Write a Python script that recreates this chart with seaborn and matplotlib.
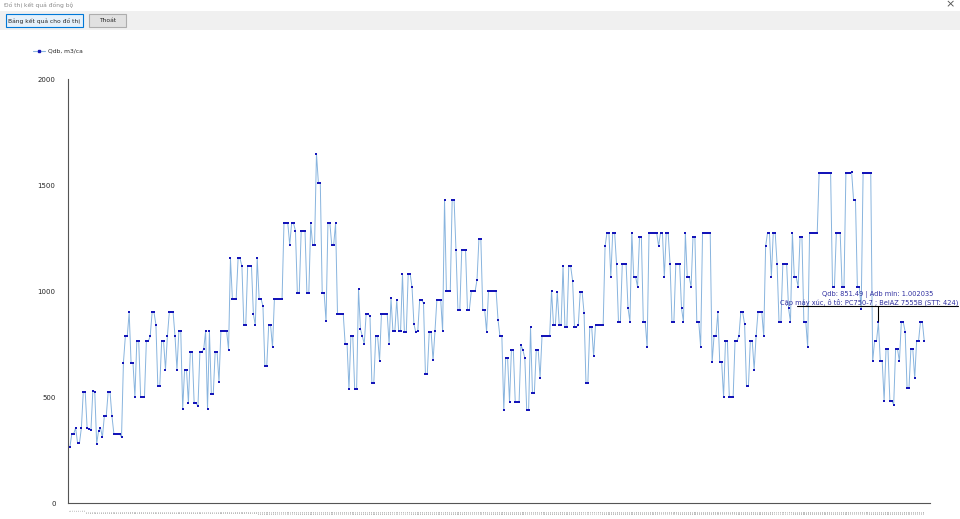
import pandas as pd
import matplotlib.pyplot as plt
import seaborn as sns
from matplotlib.lines import Line2D
from matplotlib.patches import Rectangle

# values (Qdb, m3/ca for each pair, STT 1..448)
qdb = [
    264, 327, 327, 354, 283, 283, 354, 525, 525, 354, 350, 343, 530, 525, 280, 340,
    354, 310, 409, 409, 522, 522, 409, 327, 327, 327, 327, 310, 662, 786, 786, 899,
    662, 662, 500, 763, 763, 500, 500, 500, 763, 763, 786, 899, 899, 841, 550,
    550, 763, 763, 629, 786, 899, 899, 899, 786, 629, 810, 810, 443, 629, 629, 472,
    712, 712, 472, 472, 456, 712, 712, 726, 810, 443, 810, 514, 514, 712, 712, 571,
    810, 810, 810, 810, 723, 1154, 964, 964, 964, 1154, 1154, 1116, 838, 838, 1116,
    1116, 1116, 891,
    838, 1154, 964, 964, 928, 648, 648, 838, 838, 734, 964, 964, 964, 964, 964, 1319,
    1319, 1319, 1218, 1319, 1319, 1284, 992, 992, 1284, 1284, 1284, 992, 992, 1319,
    1218, 1218, 1648, 1511, 1511, 992, 992, 857, 1319, 1319, 1218, 1218, 1319, 893,
    893, 893, 893, 751, 751, 536,
    786, 786, 536, 536, 1009, 822, 786, 751, 893, 893, 880, 566, 566, 786, 786, 668,
    893, 893, 893, 893, 751, 965, 810, 810, 959, 810, 810, 1082, 805, 805, 1082, 1082,
    1017, 843, 805, 810, 959, 959, 943, 610, 610, 805, 805, 673, 810, 959, 959, 959,
    810, 1431,
    998, 998, 998, 1431, 1431, 1192, 912, 912, 1192, 1192, 1192, 912, 912, 998, 998,
    998, 1053, 1245, 1245, 912, 912, 808, 998, 998, 998, 998, 998, 863, 786, 786, 439,
    684, 684, 475, 722, 722, 475, 475, 475, 744, 722, 684, 439, 439, 829, 519, 519,
    722, 722, 591,
    786, 786, 786, 786, 786, 1001, 841, 841, 995, 841, 841, 1116, 832, 832, 1116, 1116,
    1049, 830, 830, 841, 995, 995, 896, 568, 568, 830, 830, 692, 841, 841, 841, 841,
    841, 1211, 1275, 1275, 1066, 1275, 1275, 1127, 855, 855, 1127, 1127, 1127, 920,
    855, 1275, 1066,
    1066, 1020, 1253, 1253, 855, 855, 736, 1275, 1275, 1275, 1275, 1275, 1211, 1275,
    1275, 1066, 1275, 1275, 1127, 855, 855, 1127, 1127, 1127, 918, 855, 1275, 1066,
    1066, 1020, 1253, 1253, 855, 855, 736, 1275, 1275, 1275, 1275, 1275, 663, 786, 786,
    899, 663, 663, 500, 764, 764, 500,
    500, 500, 764, 764, 786, 899, 899, 843, 550, 550, 764, 764, 629, 786, 899, 899,
    899, 786, 1211, 1275, 1275, 1066, 1275, 1275, 1127, 855, 855, 1127, 1127, 1127,
    918, 855, 1275, 1066, 1066, 1020, 1253, 1253, 855, 855, 736, 1275, 1275, 1275,
    1275, 1275, 1556, 1556, 1556, 1556,
    1556, 1556, 1556, 1020, 1020, 1275, 1275, 1275, 1020, 1020, 1556, 1556, 1556, 1559,
    1431, 1431, 1020, 1020, 917, 1556, 1556, 1556, 1556, 1556, 668, 764, 764, 851.49,
    668, 668, 483, 726, 726, 483, 483, 464, 726, 726, 668, 854, 854, 808, 542, 542,
    726, 726, 588, 764, 764, 854, 854, 764,
]
stt = list(range(1, len(qdb) + 1))
yticks = [0, 500, 1000, 1500, 2000]
tip_line1 = "Qdb: 851.49 | Adb min: 1.002035"
tip_line2 = "Cặp máy xúc, ô tô: PC750-7 ; BelAZ 7555B (STT: 424)"

df = pd.DataFrame({"stt": stt, "qdb": qdb})

sns.set_style("white")
plt.rcParams["font.family"] = ["DejaVu Sans"]

W, H = 960, 519
fig = plt.figure(figsize=(W / 100, H / 100), dpi=100)


def fx(x):
    return x / W


def fy(y):
    return 1 - y / H


# khung cửa sổ + nút
fig.patches.append(Rectangle((0, fy(30)), 1, fy(11) - fy(30), transform=fig.transFigure,
                             facecolor="#f0f0f0", edgecolor="none"))
fig.text(fx(4), fy(5), "Đồ thị kết quả đồng bộ", fontsize=4.3, color="#8a8a8a", va="center")
fig.text(fx(950), fy(4), "×", fontsize=8, color="#555555", va="center", ha="center")
fig.patches.append(Rectangle((fx(6), fy(27)), fx(77), fy(14) - fy(27), transform=fig.transFigure,
                             facecolor="#e5f1fb", edgecolor="#0078d7", lw=0.8))
fig.text(fx(44.5), fy(20.5), "Bảng kết quả cho đồ thị", fontsize=4.3, ha="center", va="center")
fig.patches.append(Rectangle((fx(89), fy(27)), fx(37), fy(14) - fy(27), transform=fig.transFigure,
                             facecolor="#e1e1e1", edgecolor="#adadad", lw=0.8))
fig.text(fx(107.5), fy(20.5), "Thoát", fontsize=4.3, ha="center", va="center")

ax = fig.add_axes([fx(68), fy(503), fx(930) - fx(68), fy(79) - fy(503)])

sns.lineplot(data=df, x="stt", y="qdb", ax=ax, color="#88b4de", lw=0.7)
sns.scatterplot(data=df, x="stt", y="qdb", ax=ax, color="#1414b8", marker="s",
                s=3.5, linewidth=0, zorder=3)

ax.set_xlim(0, len(qdb) + 3)
ax.set_ylim(0, 2000)
ax.set_yticks(yticks)
ax.set_yticklabels([str(v) for v in yticks], fontsize=5)
ax.set_xticks(stt)
ax.set_xticklabels([str(s) for s in stt], fontsize=1.6, rotation=90, color="#777777")
ax.tick_params(axis="x", length=4, width=0.4, color="#555555", pad=1)
ax.tick_params(axis="y", length=5, width=0.6, color="#555555", pad=4)
ax.set_xlabel("")
ax.set_ylabel("")
sns.despine(ax=ax, top=True, right=True)
for side in ["left", "bottom"]:
    ax.spines[side].set_color("#555555")
    ax.spines[side].set_linewidth(0.8)

# chú thích
fig.add_artist(Line2D([fx(33), fx(45)], [fy(51), fy(51)], color="#88b4de", lw=0.8))
fig.add_artist(Line2D([fx(39)], [fy(51)], color="#1414b8", marker="s", markersize=1.8, lw=0))
fig.text(fx(48), fy(51), "Qdb, m3/ca", fontsize=4.3, va="center")

# tooltip điểm đang chọn (STT 424)
tx = fx(878)
fig.text(tx, fy(294), tip_line1, fontsize=4.8, color="#3030a0", ha="center", va="center")
fig.text(fx(958), fy(302), tip_line2, fontsize=4.8, color="#3030a0", ha="right", va="center")
fig.add_artist(Line2D([fx(797), fx(958)], [fy(306), fy(306)], color="black", lw=0.8))
fig.add_artist(Line2D([tx, tx], [fy(306), fy(321)], color="black", lw=0.8))

fig.savefig("out.png", dpi=100)
